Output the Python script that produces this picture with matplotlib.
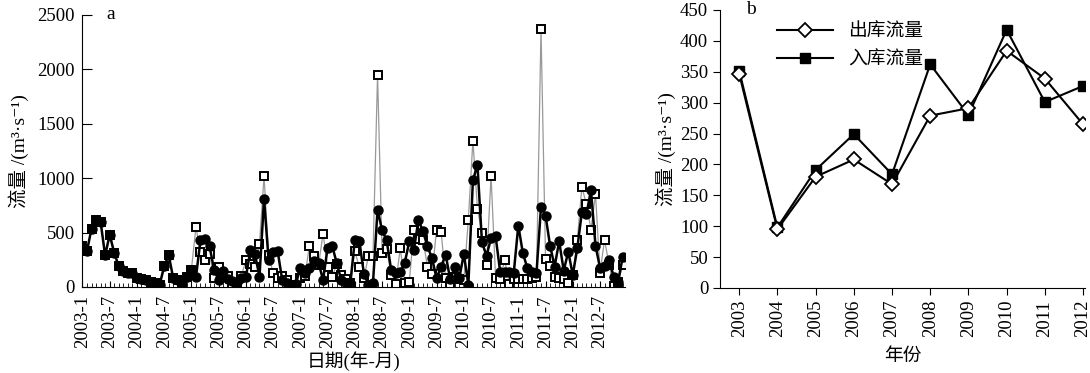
import matplotlib
matplotlib.use("Agg")
import matplotlib.pyplot as plt
import numpy as np

plt.rcParams['font.family'] = ['Liberation Serif', 'DejaVu Serif', 'Noto Sans CJK SC']

# panel a: monthly flow 2003-1 .. 2012-12
flow_circle = [380, 330, 535, 620, 600, 290, 480, 315, 190, 150, 130, 125,
               80, 70, 65, 50, 35, 18, 190, 295, 80, 65, 50, 95,
               160, 90, 430, 440, 373, 160, 60, 150, 70, 52, 45, 80,
               90, 340, 300, 95, 810, 250, 320, 330, 65, 35, 20, 30,
               175, 127, 173, 240, 222, 65, 360, 380, 220, 65, 35, 30,
               435, 420, 120, 20, 40, 710, 520, 430, 155, 128, 140, 225,
               420, 343, 614, 512, 373, 265, 80, 188, 296, 70, 180, 80,
               305, 20, 980, 1125, 410, 287, 450, 465, 142, 140, 140, 130,
               565, 312, 173, 140, 125, 738, 655, 380, 188, 420, 150, 325,
               110, 360, 688, 667, 890, 380, 176, 194, 250, 95, 50, 280]
flow_square = [380, 330, 535, 620, 600, 290, 480, 315, 190, 150, 130, 125,
               80, 70, 65, 50, 35, 18, 190, 295, 80, 65, 50, 95,
               160, 550, 320, 250, 300, 83, 188, 120, 100, 8, 35, 100,
               245, 210, 180, 398, 1020, 296, 130, 80, 100, 60, 20, 10,
               80, 100, 380, 281, 200, 490, 188, 93, 210, 111, 70, 40,
               327, 180, 80, 287, 287, 1950, 312, 350, 111, 30, 357, 35,
               50, 528, 440, 435, 188, 120, 528, 503, 80, 30, 90, 70,
               60, 620, 1345, 720, 497, 204, 1021, 80, 70, 250, 28, 70,
               71, 71, 75, 80, 90, 2370, 255, 194, 90, 80, 70, 40,
               110, 435, 920, 760, 528, 852, 132, 435, 200, 10, 50, 200]
month_labels = []
for y in range(2003, 2013):
    month_labels.append("%d-1" % y)
    month_labels.append("%d-7" % y)

# panel b: yearly mean flow
years = [2003, 2004, 2005, 2006, 2007, 2008, 2009, 2010, 2011, 2012]
outflow = [347, 95, 180, 208, 168, 279, 291, 384, 339, 265]
inflow = [352, 98, 191, 249, 184, 362, 280, 418, 301, 327]

ylab = "流量 /(m³·s⁻¹)"

fig = plt.figure(figsize=(10.9, 3.73), dpi=100)

ax1 = fig.add_axes([0.0752, 0.2306, 0.4982, 0.7292])
months = np.arange(len(flow_circle))
ax1.plot(months, flow_square, color='#999999', linewidth=0.9, marker='s',
         markersize=5.5, markerfacecolor='white', markeredgecolor='black',
         markeredgewidth=1.4, zorder=2)
ax1.plot(months, flow_circle, color='black', linewidth=1.8, marker='o',
         markersize=6.5, markerfacecolor='black', markeredgecolor='black',
         zorder=3)
ax1.set_xlim(-0.1, 119.5)
ax1.set_ylim(0, 2500)
ax1.set_yticks([0, 500, 1000, 1500, 2000, 2500])
ax1.set_xticks(np.arange(0, 120, 6))
ax1.set_xticklabels(month_labels, rotation=90)
ax1.set_xticks(np.arange(0, 120, 1), minor=True)
ax1.tick_params(axis='x', which='major', direction='in', length=4, labelsize=13.5, pad=6)
ax1.tick_params(axis='x', which='minor', direction='in', length=3)
ax1.tick_params(axis='y', which='major', direction='in', length=7, labelsize=13.5, pad=5)
ax1.spines['top'].set_visible(False)
ax1.spines['right'].set_visible(False)
ax1.set_xlabel("日期(年-月)", fontsize=13.5, labelpad=2)
ax1.set_ylabel(ylab, fontsize=14, labelpad=6)
ax1.text(0.045, 1.0, "a", transform=ax1.transAxes, fontsize=14, va='center')

ax2 = fig.add_axes([0.6606, 0.2279, 0.3348, 0.7453])
ax2.plot(years, outflow, color='black', linewidth=1.5, marker='D',
         markersize=7, markerfacecolor='white', markeredgecolor='black',
         markeredgewidth=1.3, label="出库流量", zorder=3)
ax2.plot(years, inflow, color='black', linewidth=1.5, marker='s',
         markersize=7, markerfacecolor='black', label="入库流量", zorder=2)
ax2.set_xlim(2002.5, 2012.05)
ax2.set_ylim(0, 450)
ax2.set_yticks(np.arange(0, 451, 50))
ax2.set_xticks(years)
ax2.set_xticklabels([str(y) for y in years], rotation=90)
ax2.tick_params(axis='both', direction='out', length=5, labelsize=13.5)
ax2.spines['top'].set_visible(False)
ax2.spines['right'].set_visible(False)
ax2.set_xlabel("年份", fontsize=13.5, labelpad=8)
ax2.set_ylabel(ylab, fontsize=14, labelpad=3)
ax2.text(0.07, 1.0, "b", transform=ax2.transAxes, fontsize=14, va='center')
ax2.legend(loc='upper left', bbox_to_anchor=(0.12, 1.0), frameon=False,
           fontsize=13.5, handlelength=3, labelspacing=0.6, borderpad=0.2)

fig.savefig("out.png", dpi=100)
